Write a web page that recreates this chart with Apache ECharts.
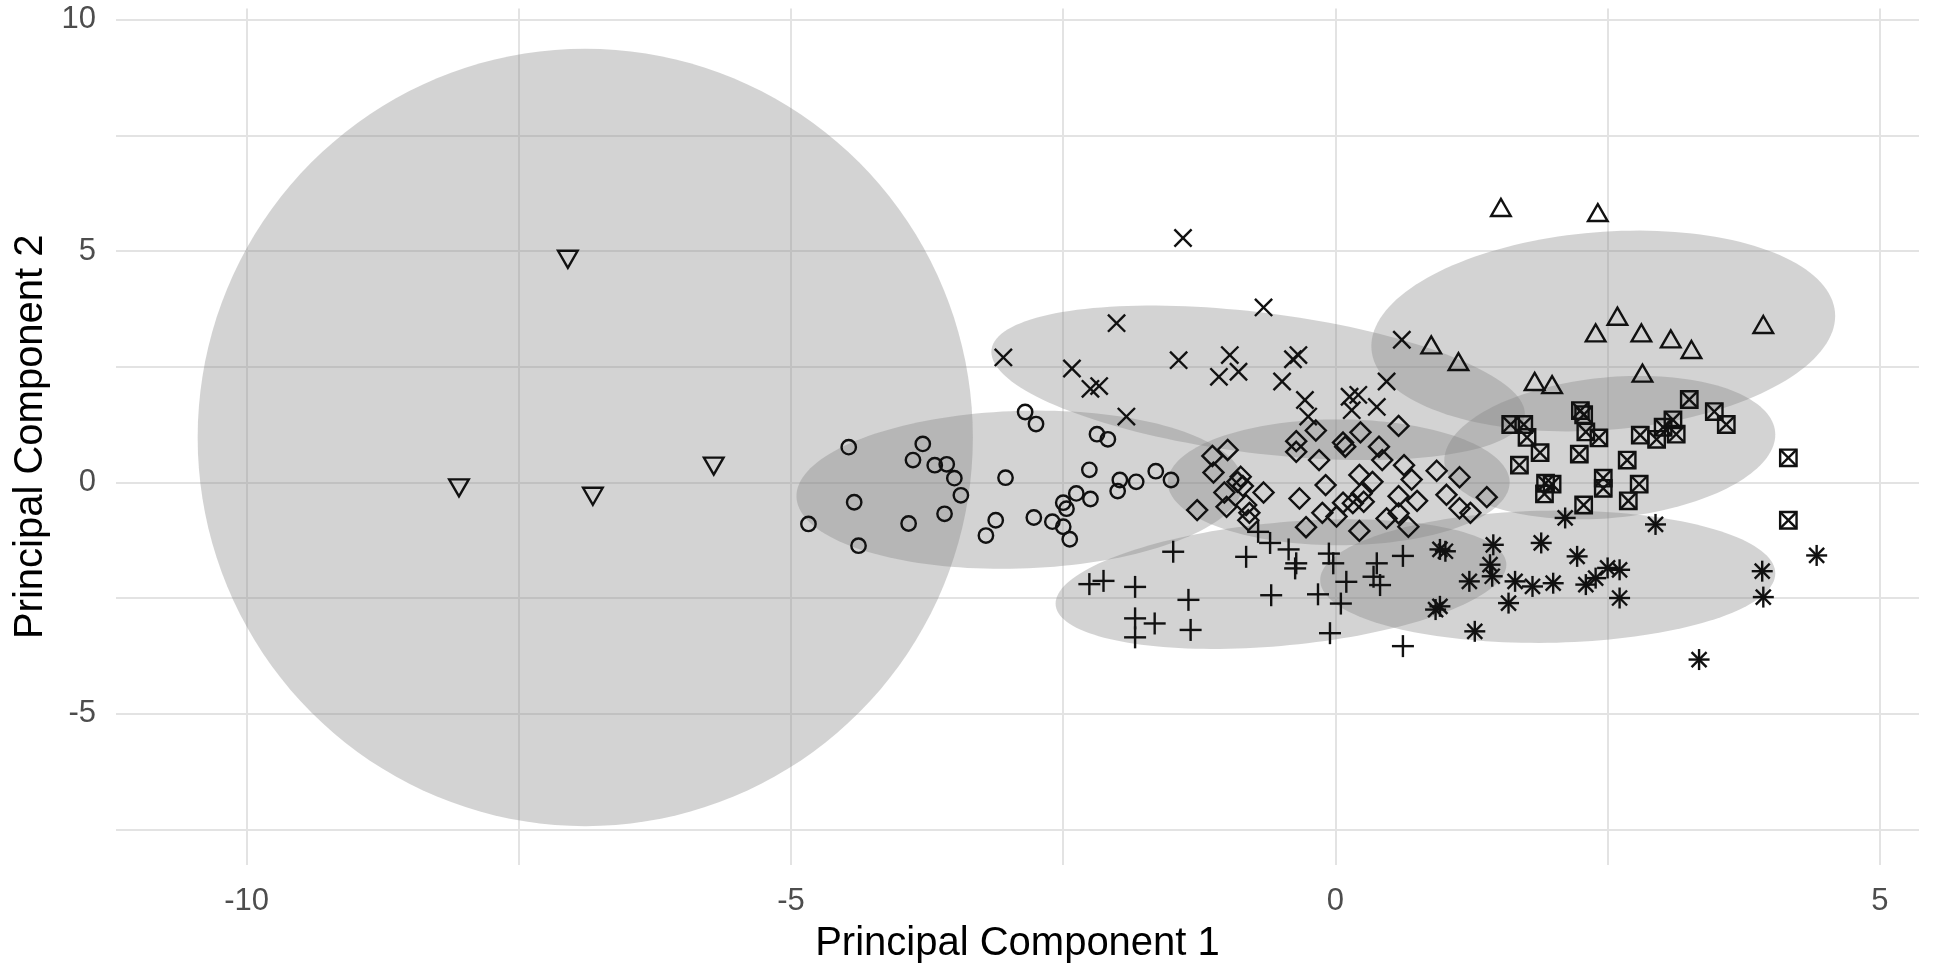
<!DOCTYPE html>
<html><head><meta charset="utf-8">
<script src="https://cdn.jsdelivr.net/npm/echarts@6/dist/echarts.min.js"></script>
<style>html,body{margin:0;padding:0;background:#fff}#c{width:1934px;height:972px}</style>
</head><body><div id="c"></div>
<script>
// ---- axis ticks / grid ----
const xTickLabels = [-10, -5, 0, 5];
const yTickLabels = [-5, 0, 5, 10];
const xGridValues = [-10, -7.5, -5, -2.5, 0, 2.5, 5];
const yGridValues = [-7.5, -5, -2.5, 0, 2.5, 5, 7.5, 10];

// ---- groups (PC1, PC2) ----
const triDownX = [-7.05, -8.05, -6.82, -5.71];
const triDownY = [4.88, -0.06, -0.24, 0.41];

const circleX = [-4.47,-4.42,-4.84,-4.38,-3.79,-3.88,-3.68,-3.57,-3.50,-3.44,-3.59,-3.92,-3.03,-3.12,-3.21,-2.85,-2.75,-2.77,-2.60,-2.50,-2.44,-2.50,-2.47,-2.38,-2.25,-2.26,-2.19,-2.09,-1.98,-2.00,-1.83,-1.65,-1.51];
const circleY = [0.76,-0.43,-0.90,-1.37,0.83,0.48,0.37,0.39,0.09,-0.28,-0.68,-0.89,0.10,-0.82,-1.15,1.52,1.26,-0.76,-0.85,-0.96,-1.23,-0.44,-0.57,-0.24,-0.36,0.27,1.04,0.93,0.05,-0.19,0.01,0.24,0.05];

const crossX = [-1.40,-0.66,-2.01,-3.05,-2.42,-2.25,-2.17,-1.92,-1.44,-0.97,-1.07,-0.89,-0.39,-0.34,-0.49,-0.28,-0.25,0.13,0.21,0.15,0.38,0.47,0.61];
const crossY = [5.28,3.78,3.44,2.70,2.46,2.02,2.08,1.42,2.64,2.75,2.28,2.39,2.66,2.75,2.18,1.78,1.42,1.85,1.89,1.56,1.63,2.18,3.08];

const diamondX = [-0.99,-1.13,-1.12,-0.87,-0.85,-1.02,-0.66,-1.00,-1.27,-0.82,-0.80,-0.90,-0.36,-0.36,-0.18,-0.15,-0.33,-0.09,-0.12,-0.27,0.07,0.09,0.23,0.01,0.07,0.22,0.34,0.24,0.16,0.26,0.22,0.40,0.43,0.58,0.63,0.70,0.58,0.75,0.47,0.58,0.67,0.93,1.14,1.02,1.14,1.24,1.39,-0.79];
const diamondY = [0.70,0.57,0.21,0.12,-0.08,-0.22,-0.22,-0.53,-0.60,-0.49,-0.82,0.01,0.89,0.66,1.12,0.48,-0.35,-0.06,-0.66,-0.97,0.86,0.77,1.08,-0.74,-0.44,0.16,0.01,-0.24,-0.45,-0.42,-1.05,0.77,0.48,1.22,0.37,0.06,-0.30,-0.40,-0.78,-0.67,-0.96,0.25,0.11,-0.27,-0.56,-0.66,-0.32,-0.66];

const plusX = [-1.49,-2.26,-2.13,-1.84,-1.84,-1.66,-1.84,-1.35,-1.33,-0.82,-0.71,-0.60,-0.43,-0.36,-0.37,-0.59,-0.16,-0.06,-0.02,0.10,0.05,-0.05,0.38,0.35,0.41,0.62,0.62];
const plusY = [-1.50,-2.20,-2.13,-2.26,-2.94,-3.05,-3.35,-2.54,-3.19,-1.61,-1.07,-1.31,-1.45,-1.75,-1.86,-2.44,-2.42,-1.54,-1.75,-2.15,-2.62,-3.26,-1.75,-2.04,-2.22,-1.59,-3.54];

const triUpX = [1.52,2.41,2.59,2.39,2.81,3.08,3.27,3.93,2.82,0.88,1.13,1.83,1.99];
const triUpY = [5.88,5.77,3.53,3.17,3.17,3.04,2.81,3.35,2.30,2.91,2.55,2.12,2.05];

const squareX = [3.25,3.48,3.59,1.61,1.73,1.76,2.25,2.28,2.30,2.42,1.88,1.69,2.24,2.68,2.80,2.95,3.01,3.10,3.13,1.93,1.99,1.92,2.46,2.46,2.79,2.69,2.28,4.16,4.16];
const squareY = [1.79,1.53,1.25,1.25,1.25,0.97,1.55,1.46,1.09,0.96,0.64,0.37,0.61,0.48,1.02,0.93,1.19,1.35,1.04,-0.02,-0.04,-0.25,0.09,-0.13,-0.04,-0.40,-0.49,0.53,-0.82];

const starX = [2.11,2.94,1.01,0.96,1.45,1.42,1.44,1.23,1.89,2.22,1.65,1.81,2.00,2.30,2.39,2.50,2.61,2.61,1.59,0.92,0.96,1.28,3.92,3.93,4.42,3.34];
const starY = [-0.77,-0.91,-1.49,-1.45,-1.35,-1.78,-2.03,-2.14,-1.31,-1.60,-2.14,-2.25,-2.18,-2.21,-2.07,-1.85,-1.89,-2.50,-2.61,-2.75,-2.68,-3.22,-1.92,-2.48,-1.58,-3.83];

// ---- confidence ellipses: centre, x half-extent, y half-extent, correlation ----
const ellipseCx = [-6.89, -2.90, -0.71, 0.03, -0.50, 2.46, 2.52, 1.95];
const ellipseCy = [0.97, -0.16, 2.15, 0.00, -2.20, 3.27, 0.75, -2.04];
const ellipseSx = [3.56, 2.05, 2.45, 1.57, 2.07, 2.13, 1.52, 2.09];
const ellipseSy = [8.40, 1.71, 1.67, 1.36, 1.40, 2.17, 1.55, 1.43];
const ellipseR  = [0.00, 0.08, -0.40, 0.00, 0.30, 0.15, 0.18, 0.05];

const FONT = '"Liberation Sans", Arial, Helvetica, sans-serif';
const INK = '#111111';
const LW = 2.4;

function ln(x1, y1, x2, y2) {
  return { type: 'line', shape: { x1, y1, x2, y2 }, style: { stroke: INK, lineWidth: LW, fill: null } };
}
function drawShape(shape, x, y) {
  const st = { stroke: INK, lineWidth: LW, fill: 'none' };
  switch (shape) {
    case 'circle':
      return { type: 'circle', shape: { cx: x, cy: y, r: 7.2 }, style: st };
    case 'triUp':
      return { type: 'polygon', shape: { points: [[x, y - 11.3], [x + 9.8, y + 5.7], [x - 9.8, y + 5.7]] }, style: st };
    case 'triDown':
      return { type: 'polygon', shape: { points: [[x, y + 11.3], [x + 9.8, y - 5.7], [x - 9.8, y - 5.7]] }, style: st };
    case 'diamond':
      return { type: 'polygon', shape: { points: [[x, y - 10], [x + 10, y], [x, y + 10], [x - 10, y]] }, style: st };
    case 'square': {
      const h = 8.2;
      return { type: 'group', children: [
        { type: 'rect', shape: { x: x - h, y: y - h, width: 2 * h, height: 2 * h }, style: st },
        ln(x - h, y - h, x + h, y + h), ln(x - h, y + h, x + h, y - h)
      ] };
    }
    case 'cross': {
      const h = 8.6;
      return { type: 'group', children: [ln(x - h, y - h, x + h, y + h), ln(x - h, y + h, x + h, y - h)] };
    }
    case 'plus': {
      const h = 11;
      return { type: 'group', children: [ln(x - h, y, x + h, y), ln(x, y - h, x, y + h)] };
    }
    case 'star': {
      const h = 10.5, d = 7.5;
      return { type: 'group', children: [
        ln(x - h, y, x + h, y), ln(x, y - h, x, y + h),
        ln(x - d, y - d, x + d, y + d), ln(x - d, y + d, x + d, y - d)
      ] };
    }
  }
}
function markerSeries(name, xs, ys, shape) {
  return {
    type: 'custom', name: name, coordinateSystem: 'cartesian2d', z: 5, silent: true,
    data: xs.map((x, i) => [x, ys[i]]),
    encode: { x: 0, y: 1 },
    renderItem: function (params, api) {
      const p = api.coord([api.value(0), api.value(1)]);
      return drawShape(shape, p[0], p[1]);
    }
  };
}

const ellipseSeries = {
  type: 'custom', name: 'ellipses', coordinateSystem: 'cartesian2d', z: 2, silent: true,
  data: ellipseCx.map((cx, i) => [cx, ellipseCy[i], ellipseSx[i], ellipseSy[i], ellipseR[i]]),
  encode: { x: 0, y: 1 },
  renderItem: function (params, api) {
    const cx = api.value(0), cy = api.value(1), sx = api.value(2), sy = api.value(3), r = api.value(4);
    const k = Math.sqrt(1 - r * r);
    const pts = [];
    const n = 160;
    for (let j = 0; j < n; j++) {
      const t = 2 * Math.PI * j / n;
      pts.push(api.coord([cx + sx * Math.cos(t), cy + sy * (r * Math.cos(t) + k * Math.sin(t))]));
    }
    return { type: 'polygon', shape: { points: pts }, style: { fill: 'rgba(128,128,128,0.35)', stroke: 'none' } };
  }
};

const chart = echarts.init(document.getElementById('c'), null, { renderer: 'canvas' });
chart.setOption({
  backgroundColor: '#ffffff',
  animation: false,
  grid: { left: 116, right: 15, top: 8.5, bottom: 107, containLabel: false },
  xAxis: {
    type: 'value', min: -11.2, max: 5.36,
    name: 'Principal Component 1', nameLocation: 'middle', nameGap: 59,
    nameTextStyle: { fontSize: 40, color: '#000', fontFamily: FONT },
    axisLine: { show: false },
    axisTick: { show: false, customValues: xGridValues },
    axisLabel: { customValues: xTickLabels, fontSize: 31, color: '#4d4d4d', margin: 21, fontFamily: FONT },
    splitLine: { show: true, lineStyle: { color: '#e3e3e3', width: 2 } }
  },
  yAxis: {
    type: 'value', min: -8.27, max: 10.24,
    name: 'Principal Component 2', nameLocation: 'middle', nameGap: 52,
    nameTextStyle: { fontSize: 40, color: '#000', fontFamily: FONT },
    axisLine: { show: false },
    axisTick: { show: false, customValues: yGridValues },
    axisLabel: { customValues: yTickLabels, fontSize: 31, color: '#4d4d4d', margin: 20, fontFamily: FONT },
    splitLine: { show: true, lineStyle: { color: '#e3e3e3', width: 2 } }
  },
  series: [
    ellipseSeries,
    markerSeries('g1', triDownX, triDownY, 'triDown'),
    markerSeries('g2', circleX, circleY, 'circle'),
    markerSeries('g3', crossX, crossY, 'cross'),
    markerSeries('g4', diamondX, diamondY, 'diamond'),
    markerSeries('g5', plusX, plusY, 'plus'),
    markerSeries('g6', triUpX, triUpY, 'triUp'),
    markerSeries('g7', squareX, squareY, 'square'),
    markerSeries('g8', starX, starY, 'star')
  ]
});
</script></body></html>
